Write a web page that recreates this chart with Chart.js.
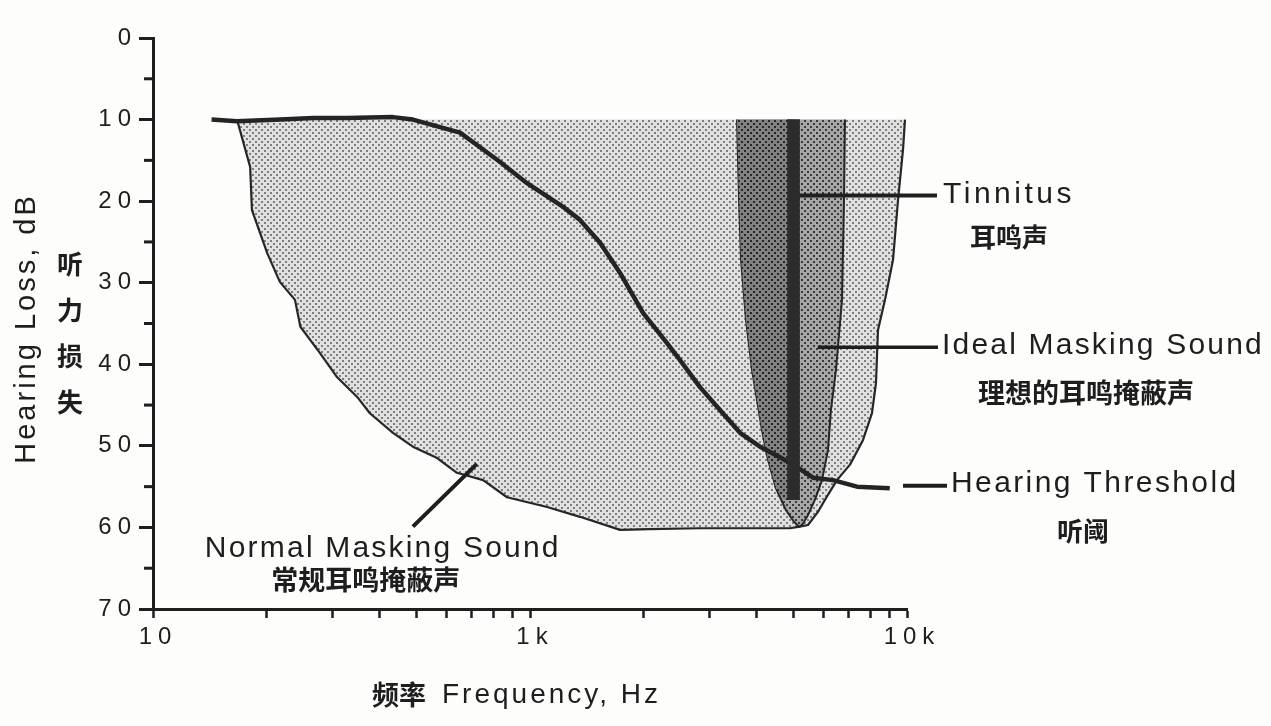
<!DOCTYPE html>
<html>
<head>
<meta charset="utf-8">
<script src="https://cdn.jsdelivr.net/npm/chart.js@4.4.1/dist/chart.umd.min.js"></script>
<style>
  html, body { margin: 0; padding: 0; background: #fdfdfc; }
  #wrap { width: 1271px; height: 726px; position: relative; }
  canvas { background: #fdfdfc; }
</style>
</head>
<body>
<div id="wrap"><canvas id="chart"></canvas></div>
<script>
// ---- axes ----
const FREQ_MIN = 100, FREQ_MAX = 10000;
const FREQ_TICKS = [100, 200, 300, 400, 500, 600, 700, 800, 900,
                    1000, 2000, 3000, 4000, 5000, 6000, 7000, 8000, 9000, 10000];
const FREQ_LABEL_VALUES = [100, 1000, 10000];
const FREQ_LABELS = ['10', '1k', '10k'];
const DB_MIN = 0, DB_MAX = 70, DB_STEP = 10, DB_MINOR = 5;
const MASK_TOP_DB = 10;

// ---- hearing threshold curve ----
const thresholdHz = [143, 167, 217, 266, 327, 433, 489, 652, 737, 833,
                     982, 1224, 1357, 1534, 1733, 1994, 2309, 2500, 2824, 3191,
                     3606, 4074, 4603, 5108, 5633, 6365, 7369, 9000];
const thresholdDb = [10.0, 10.2, 10.0, 9.8, 9.8, 9.7, 10.0, 11.6, 13.4, 15.2,
                     17.8, 20.7, 22.3, 25.1, 28.8, 33.7, 37.4, 39.5, 42.8, 45.6,
                     48.4, 50.1, 51.4, 52.6, 53.9, 54.2, 55.0, 55.2];

// ---- normal masking sound: lower edge of the band that starts at 10 dB ----
const normalHz = [167, 181, 183, 201, 217, 238, 246, 277, 308, 348,
                  376, 433, 489, 567, 640, 751, 869, 1110, 1357, 1733,
                  2081, 2824, 3833, 4894, 5203, 5462, 5805, 6171, 6521, 7061,
                  7641, 8074, 8275, 8377, 8743, 9182, 9465, 9759, 9879];
const normalDb = [10, 15.8, 21.1, 26.4, 29.9, 32.1, 35.4, 38.6, 41.6, 44.0,
                  46.0, 48.4, 50.1, 51.5, 53.3, 54.2, 56.3, 57.5, 58.7, 60.3,
                  60.2, 60.1, 60.1, 60.1, 59.9, 59.7, 58.1, 56.0, 54.2, 52.3,
                  49.3, 46.0, 42.3, 35.8, 32.1, 27.2, 19.9, 13.7, 10];

// ---- ideal masking sound: narrow band around the tinnitus ----
const idealHz = [3541, 3585, 3629, 3741, 3881, 4001, 4125, 4279, 4492, 4775,
                 5014, 5171, 5267, 5462, 5701, 5950, 6171, 6285, 6481, 6724,
                 6806, 6848];
const idealDb = [10, 19.9, 27.2, 34.6, 40.7, 44.4, 48.1, 51.7, 55.2, 57.9,
                 59.3, 59.9, 59.7, 58.5, 56.6, 54.2, 50.5, 45.6, 40.7, 32.1,
                 19.9, 10];
// denser low-frequency half of the ideal band
const idealCoreHz = [3541, 3585, 3629, 3741, 3881, 4001, 4125, 4279, 4492, 4700, 5000];
const idealCoreDb = [10, 19.9, 27.2, 34.6, 40.7, 44.4, 48.1, 51.7, 55.2, 56.6, 56.6];

// ---- tinnitus tone: frequency and the dB span it covers ----
const tinnitusHz = 5000;
const tinnitusDb = [10, 56.6];

// ---- text ----
const Y_TITLE = 'Hearing Loss, dB';
const Y_TITLE_CN = ['听', '力', '损', '失'];
const X_TITLE_CN = '频率';
const X_TITLE = 'Frequency, Hz';
const TXT_TINNITUS = ['Tinnitus', '耳鸣声'];
const TXT_IDEAL = ['Ideal Masking Sound', '理想的耳鸣掩蔽声'];
const TXT_THRESHOLD = ['Hearing Threshold', '听阈'];
const TXT_NORMAL = ['Normal Masking Sound', '常规耳鸣掩蔽声'];

const INK = '#1e1e1e';
const LATIN = '"Liberation Sans", Arial, Helvetica, sans-serif';
const CJK = '"Noto Sans CJK SC", "Noto Sans CJK TC", sans-serif';

const pts = (xs, ys) => xs.map((v, i) => ({ x: v, y: ys[i] }));

// halftone-like screen fill
function screen(bg, dot, size, dotSize) {
  const c = document.createElement('canvas');
  c.width = size; c.height = size;
  const g = c.getContext('2d');
  g.fillStyle = bg; g.fillRect(0, 0, size, size);
  g.fillStyle = dot; g.fillRect(0, 0, dotSize, dotSize);
  g.fillRect(size / 2, size / 2, dotSize, dotSize);
  return document.getElementById('chart').getContext('2d').createPattern(c, 'repeat');
}
const lightScreen = screen('#e0e0e0', '#7e7e7e', 6, 2);
const midScreen = screen('#a6a6a6', '#3a3a3a', 6, 2);
const darkScreen = screen('#828282', '#262626', 6, 2);

function label(ctx, str, x, y, font, align, spacing) {
  ctx.save();
  ctx.font = font;
  ctx.letterSpacing = spacing || '0px';
  ctx.textAlign = align;
  ctx.textBaseline = 'middle';
  ctx.fillStyle = INK;
  ctx.fillText(str, x, y);
  ctx.restore();
}
function seg(ctx, x1, y1, x2, y2, w) {
  ctx.save();
  ctx.strokeStyle = INK;
  ctx.lineWidth = w;
  ctx.lineCap = 'butt';
  ctx.beginPath(); ctx.moveTo(x1, y1); ctx.lineTo(x2, y2); ctx.stroke();
  ctx.restore();
}

const decor = {
  id: 'decor',
  beforeDraw(chart) {
    // spaced-out tick numerals
    chart.ctx.letterSpacing = '6px';
  },
  beforeDatasetsDraw(chart) {
    const { ctx, chartArea, scales: { y } } = chart;
    ctx.letterSpacing = '0px';
    // half-decade minor ticks on the dB axis
    ctx.save();
    ctx.strokeStyle = INK; ctx.lineWidth = 3;
    for (let v = DB_MIN + DB_MINOR; v < DB_MAX; v += DB_STEP) {
      const py = y.getPixelForValue(v);
      ctx.beginPath(); ctx.moveTo(chartArea.left - 9, py); ctx.lineTo(chartArea.left, py); ctx.stroke();
    }
    ctx.restore();
  },
  afterDatasetsDraw(chart) {
    const { ctx, chartArea, scales: { x, y } } = chart;
    const R = chartArea.right;
    const big = '30px ' + LATIN, cn = 'bold 26px ' + CJK;

    // Tinnitus
    let ly = y.getPixelForValue(19.3);
    let x1 = x.getPixelForValue(tinnitusHz) + 6, x2 = R + 30;
    seg(ctx, x1, ly, x2, ly, 4);
    label(ctx, TXT_TINNITUS[0], x2 + 6, ly - 1, big, 'left', '3.5px');
    label(ctx, TXT_TINNITUS[1], x2 + 72, ly + 42, cn, 'center');

    // Ideal masking sound
    ly = y.getPixelForValue(37.9);
    x1 = x.getPixelForValue(5800); x2 = R + 31;
    seg(ctx, x1, ly, x2, ly, 3.5);
    label(ctx, TXT_IDEAL[0], x2 + 4, ly - 1, big, 'left', '2.2px');
    label(ctx, TXT_IDEAL[1], x2 + 148, ly + 46, 'bold 27px ' + CJK, 'center');

    // Hearing threshold (dashed continuation of the curve)
    ly = y.getPixelForValue(54.9);
    x1 = R - 4; x2 = R + 40;
    seg(ctx, x1, ly, x2, ly, 4);
    label(ctx, TXT_THRESHOLD[0], x2 + 4, ly - 2, big, 'left', '2.4px');
    label(ctx, TXT_THRESHOLD[1], x2 + 136, ly + 45, cn, 'center');

    // Normal masking sound
    const nx1 = x.getPixelForValue(489), ny1 = y.getPixelForValue(59.9);
    const nx2 = x.getPixelForValue(723), ny2 = y.getPixelForValue(52.2);
    seg(ctx, nx1, ny1, nx2, ny2, 4);
    label(ctx, TXT_NORMAL[0], nx1 - 208, ny1 + 22, big, 'left', '2.2px');
    label(ctx, TXT_NORMAL[1], nx1 - 47, ny1 + 53, 'bold 27px ' + CJK, 'center');

    // y title
    ctx.save();
    ctx.translate(27, (chartArea.top + chartArea.bottom) / 2 + 5);
    ctx.rotate(-Math.PI / 2);
    label(ctx, Y_TITLE, 0, 0, '29px ' + LATIN, 'center', '3px');
    ctx.restore();
    Y_TITLE_CN.forEach((ch, i) => label(ctx, ch, 70, 264 + i * 46, 'bold 26px ' + CJK, 'center'));

    // x title
    label(ctx, X_TITLE_CN, 372, 695, 'bold 27px ' + CJK, 'left');
    label(ctx, X_TITLE, 442, 695, '28px ' + LATIN, 'left', '3px');
  }
};

const line = (data, extra) => Object.assign({
  type: 'line', data, pointRadius: 0, tension: 0, borderJoinStyle: 'round', fill: false
}, extra);

new Chart(document.getElementById('chart'), {
  type: 'line',
  data: {
    datasets: [
      {
        type: 'bar', label: 'Tinnitus',
        data: [{ x: tinnitusHz, y: tinnitusDb }],
        backgroundColor: '#2c2c2c', borderWidth: 0, barThickness: 12, grouped: false
      },
      line(pts(thresholdHz, thresholdDb), { label: 'Hearing Threshold', borderColor: '#242424', borderWidth: 4.5, borderCapStyle: 'butt' }),
      line(pts(idealCoreHz, idealCoreDb), { label: 'Ideal core', borderWidth: 0, borderColor: 'rgba(0,0,0,0)', backgroundColor: darkScreen, fill: { value: MASK_TOP_DB } }),
      line(pts(idealHz, idealDb), { label: 'Ideal Masking Sound', borderColor: '#262626', borderWidth: 2, backgroundColor: midScreen, fill: { value: MASK_TOP_DB } }),
      line(pts(normalHz, normalDb), { label: 'Normal Masking Sound', borderColor: '#262626', borderWidth: 2.2, backgroundColor: lightScreen, fill: { value: MASK_TOP_DB } })
    ]
  },
  options: {
    responsive: true,
    maintainAspectRatio: false,
    animation: false,
    events: [],
    layout: { padding: { left: 0, right: 364, top: 38, bottom: 0 } },
    plugins: { legend: { display: false }, tooltip: { enabled: false } },
    scales: {
      x: {
        type: 'logarithmic',
        min: FREQ_MIN, max: FREQ_MAX,
        offset: false,
        afterBuildTicks: s => { s.ticks = FREQ_TICKS.map(v => ({ value: v })); },
        afterFit: s => { s.height = 117; },
        ticks: {
          autoSkip: false, maxRotation: 0, padding: 5, labelOffset: 5,
          font: { family: LATIN, size: 24 }, color: INK,
          callback: v => { const i = FREQ_LABEL_VALUES.indexOf(v); return i >= 0 ? FREQ_LABELS[i] : ''; }
        },
        grid: { drawOnChartArea: false, offset: false, tickLength: 9, tickWidth: 2.5, tickColor: INK },
        border: { width: 3, color: INK }
      },
      y: {
        type: 'linear', reverse: true,
        min: DB_MIN, max: DB_MAX,
        afterFit: s => { s.width = 153; },
        ticks: { stepSize: DB_STEP, padding: 2, font: { family: LATIN, size: 24 }, color: INK },
        grid: { drawOnChartArea: false, tickLength: 14, tickWidth: 3, tickColor: INK },
        border: { width: 3, color: INK }
      }
    }
  },
  plugins: [decor]
});
</script>
</body>
</html>
